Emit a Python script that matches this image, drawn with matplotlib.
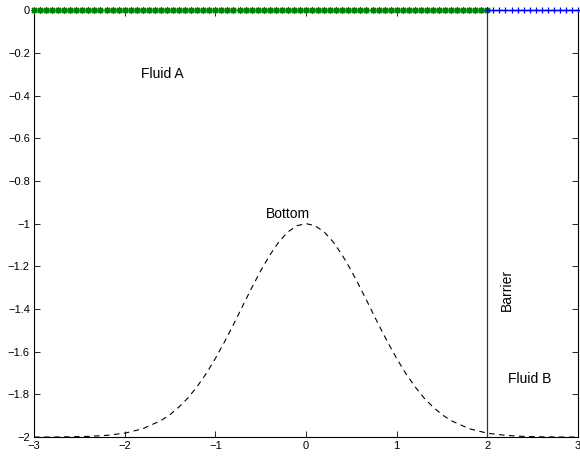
import numpy as np
import matplotlib.pyplot as plt

plt.rcParams['font.family'] = ['Liberation Sans', 'DejaVu Sans']

# bottom profile, sampled along x
bottom_x = [-3.0, -2.8, -2.6, -2.4, -2.2, -2.0, -1.8, -1.6, -1.5, -1.4, -1.3, -1.2,
            -1.1, -1.0, -0.9, -0.8, -0.7, -0.6, -0.5, -0.4, -0.3, -0.2, -0.1,
            0.0,
            0.1, 0.2, 0.3, 0.4, 0.5, 0.6, 0.7, 0.8, 0.9, 1.0, 1.1,
            1.2, 1.3, 1.4, 1.5, 1.6, 1.8, 2.0, 2.2, 2.4, 2.6, 2.8, 3.0]
bottom_y = [-2.000, -2.000, -1.999, -1.997, -1.992, -1.982, -1.961, -1.923, -1.895, -1.859, -1.816, -1.763,
            -1.702, -1.632, -1.555, -1.473, -1.387, -1.302, -1.221, -1.148, -1.086, -1.039, -1.010,
            -1.000,
            -1.010, -1.039, -1.086, -1.148, -1.221, -1.302, -1.387, -1.473, -1.555, -1.632, -1.702,
            -1.763, -1.816, -1.859, -1.895, -1.923, -1.961, -1.982, -1.992, -1.997, -1.999, -2.000, -2.000]

# free surface nodes of each fluid
fluid_a_x = np.linspace(-3, 2, 76)
fluid_a_y = np.zeros_like(fluid_a_x)
fluid_b_x = np.linspace(2, 3, 16)
fluid_b_y = np.zeros_like(fluid_b_x)

barrier_x = 2.0
yticks = [0, -0.2, -0.4, -0.6, -0.8, -1, -1.2, -1.4, -1.6, -1.8, -2]
ytick_labels = ['0', '\u22120.2', '\u22120.4', '\u22120.6', '\u22120.8', '\u22121',
                '\u22121.2', '\u22121.4', '\u22121.6', '\u22121.8', '\u22122']
xticks = [-3, -2, -1, 0, 1, 2, 3]
xtick_labels = ['\u22123', '\u22122', '\u22121', '0', '1', '2', '3']

fig = plt.figure(figsize=(5.8, 4.62), dpi=100)
ax = fig.add_axes([0.0586, 0.054, 0.938, 0.924])

ax.plot(bottom_x, bottom_y, 'k--', lw=0.8, dashes=(5, 4))
ax.plot([barrier_x, barrier_x], [0, -2], color='#333333', lw=0.9)
ax.plot(fluid_a_x, fluid_a_y, color='green', lw=1.0, marker=(8, 2, 0),
        markersize=5, markeredgewidth=0.9, clip_on=False, zorder=4)
ax.plot(fluid_b_x, fluid_b_y, color='blue', lw=1.0, marker='+',
        markersize=5, markeredgewidth=0.9, clip_on=False, zorder=4)

ax.text(-1.59, -0.30, 'Fluid A', fontsize=10, ha='center', va='center')
ax.text(-0.2, -0.955, 'Bottom', fontsize=10, ha='center', va='center')
ax.text(2.22, -1.31, 'Barrier', fontsize=10, ha='center', va='center', rotation=90)
ax.text(2.47, -1.73, 'Fluid B', fontsize=10, ha='center', va='center')

ax.set_xlim(-3, 3)
ax.set_ylim(-2, 0)
ax.set_xticks(xticks)
ax.set_xticklabels(xtick_labels)
ax.set_yticks(yticks)
ax.set_yticklabels(ytick_labels)
ax.tick_params(direction='in', top=True, right=True, labelsize=8,
               length=4, width=0.6)
ax.tick_params(axis='x', pad=3)
ax.tick_params(axis='y', pad=3)
for s in ax.spines.values():
    s.set_linewidth(0.8)

fig.savefig('out.png', dpi=100)
